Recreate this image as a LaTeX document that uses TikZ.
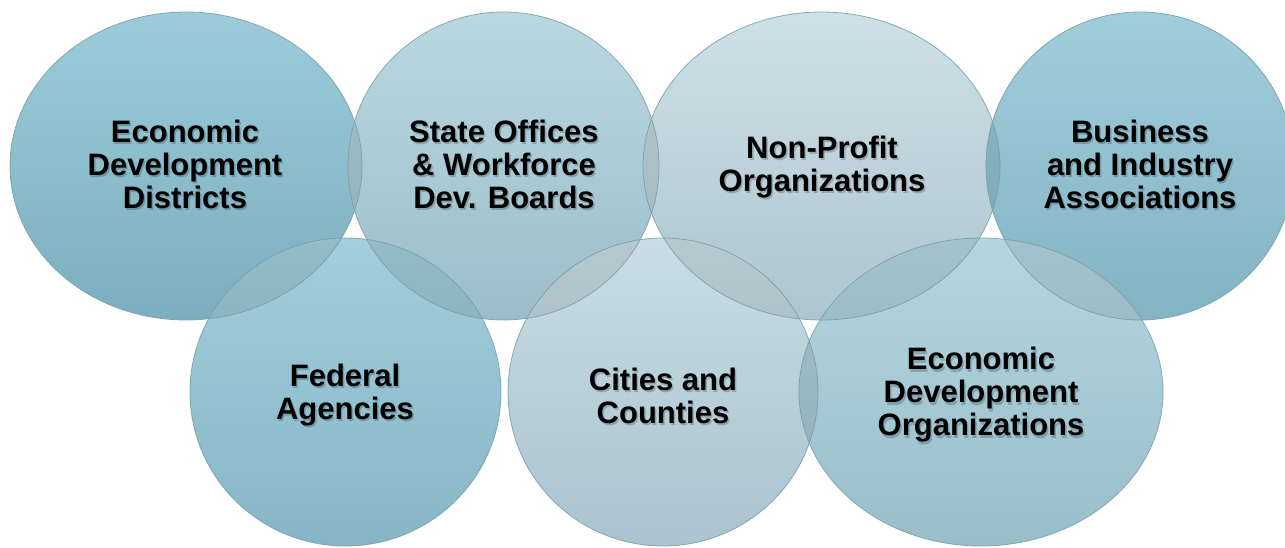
\documentclass[tikz,border=0pt]{standalone}
\usepackage{fontspec}
\setmainfont{Liberation Sans}
\definecolor{cAm}{HTML}{86BECF}\definecolor{cAt}{HTML}{9CCCDA}\definecolor{cAb}{HTML}{7BAEBF}
\definecolor{cBm}{HTML}{AACDD9}\definecolor{cBt}{HTML}{BAD8E2}\definecolor{cBb}{HTML}{9BBDC9}
\definecolor{cCm}{HTML}{BFD6DF}\definecolor{cCt}{HTML}{CDE0E7}\definecolor{cCb}{HTML}{AEC5CF}
\definecolor{cDm}{HTML}{8FC2D2}\definecolor{cDt}{HTML}{A0CDDA}\definecolor{cDb}{HTML}{82B4C4}
\definecolor{cEm}{HTML}{93C5D4}\definecolor{cEt}{HTML}{A3CEDB}\definecolor{cEb}{HTML}{86B6C5}
\definecolor{cFm}{HTML}{BAD3DD}\definecolor{cFt}{HTML}{C8DDE5}\definecolor{cFb}{HTML}{AAC3CE}
\definecolor{cGm}{HTML}{A6CCD8}\definecolor{cGt}{HTML}{B5D6E0}\definecolor{cGb}{HTML}{98BECA}
\definecolor{rim}{HTML}{7A9EAC}
\tikzset{
  lbl/.style={align=center, font=\bfseries\fontsize{31}{33}\selectfont, text=black, inner sep=0pt},
  lblshadow/.style={lbl, text=black, text opacity=0.2},
  rimline/.style={draw=rim, line width=0.8pt, draw opacity=0.85},
  lens/.style={fill=black, fill opacity=0.09}
}
\def\cA{(186,166) ellipse [x radius=176pt, y radius=154pt]}
\def\cB{(503.5,166) ellipse [x radius=155.5pt, y radius=154pt]}
\def\cC{(821.5,166) ellipse [x radius=178.5pt, y radius=154pt]}
\def\cD{(1140,166) ellipse [x radius=154pt, y radius=154pt]}
\def\cE{(345.5,392) ellipse [x radius=155.5pt, y radius=154pt]}
\def\cF{(663,392) ellipse [x radius=155pt, y radius=154pt]}
\def\cG{(981,392) ellipse [x radius=182pt, y radius=154pt]}
\newcommand{\lensof}[2]{\begin{scope}\clip #1; \fill[lens] #2; \end{scope}}
\begin{document}
\begin{tikzpicture}[x=1pt,y=-1pt]
\useasboundingbox (0,0) rectangle (1285,547);
\clip (0,0) rectangle (1285,547);
% fills
\shade[top color=cAt, middle color=cAm, bottom color=cAb] \cA;
\shade[top color=cBt, middle color=cBm, bottom color=cBb] \cB;
\shade[top color=cCt, middle color=cCm, bottom color=cCb] \cC;
\shade[top color=cDt, middle color=cDm, bottom color=cDb] \cD;
\shade[top color=cEt, middle color=cEm, bottom color=cEb] \cE;
\shade[top color=cFt, middle color=cFm, bottom color=cFb] \cF;
\shade[top color=cGt, middle color=cGm, bottom color=cGb] \cG;
% overlaps
\lensof{\cA}{\cB}
\lensof{\cB}{\cC}
\lensof{\cC}{\cD}
\lensof{\cA}{\cE}
\lensof{\cB}{\cE}
\lensof{\cB}{\cF}
\lensof{\cC}{\cF}
\lensof{\cC}{\cG}
\lensof{\cD}{\cG}
\lensof{\cF}{\cG}
% rims
\path[rimline] \cA;
\path[rimline] \cB;
\path[rimline] \cC;
\path[rimline] \cD;
\path[rimline] \cE;
\path[rimline] \cF;
\path[rimline] \cG;
% text shadows
\node[lblshadow] (sA) at (186.5,166.5) {Economic\\Development\\Districts};
\node[lblshadow] (sB) at (505.5,166.5) {State Offices\\\& Workforce\\Dev. Boards};
\node[lblshadow] (sC) at (823.5,169.5) {Non-Profit\\Organizations};
\node[lblshadow] (sD) at (1141.5,166.5) {Business\\and Industry\\Associations};
\node[lblshadow] (sE) at (346.5,397.5) {Federal\\Agencies};
\node[lblshadow] (sF) at (664.5,397.5) {Cities and\\Counties};
\node[lblshadow] (sG) at (982.5,397.5) {Economic\\Development\\Organizations};
% labels
\node[lbl] (tA) at (185,164) {Economic\\Development\\Districts};
\node[lbl] (tB) at (504,164) {State Offices\\\& Workforce\\Dev. Boards};
\node[lbl] (tC) at (822,167.5) {Non-Profit\\Organizations};
\node[lbl] (tD) at (1140,164) {Business\\and Industry\\Associations};
\node[lbl] (tE) at (345,395.5) {Federal\\Agencies};
\node[lbl] (tF) at (663,395.5) {Cities and\\Counties};
\node[lbl] (tG) at (981,395) {Economic\\Development\\Organizations};
\end{tikzpicture}
\end{document}
